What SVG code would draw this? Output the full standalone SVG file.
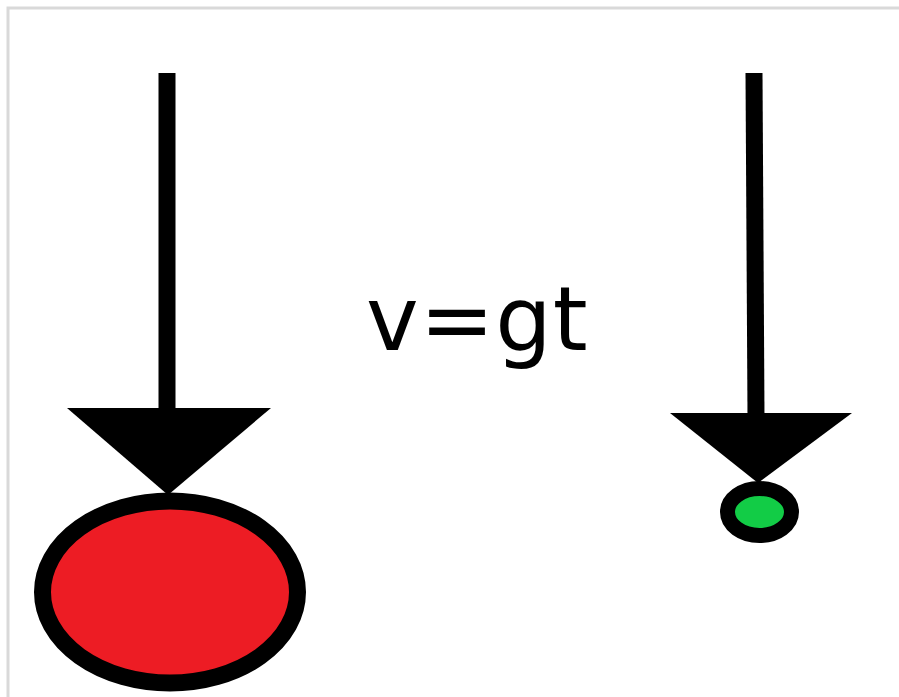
<svg xmlns="http://www.w3.org/2000/svg" width="899" height="697" viewBox="0 0 899 697">
  <style>
    .shaft { stroke: #000; stroke-width: 17; fill: none; }
    .head { fill: #000; }
    .label { font-family: "DejaVu Sans", sans-serif; font-size: 89px; fill: #000; letter-spacing: 1px; }
  </style>
  <rect width="899" height="697" fill="#fff"/>
  <g id="frame">
    <path d="M8 697 V8 H899" fill="none" stroke="#d9d9d9" stroke-width="3"/>
  </g>
  <g id="connectors">
    <line class="shaft" x1="167" y1="73" x2="167" y2="412"/>
    <polygon class="head" points="67,408 271,408 168,495"/>
    <line class="shaft" x1="754" y1="73" x2="756" y2="416"/>
    <polygon class="head" points="670,413 852,413 758,483"/>
  </g>
  <g id="big-ball">
    <ellipse cx="170" cy="592" rx="127.5" ry="91" fill="#ed1c24" stroke="#000" stroke-width="17"/>
  </g>
  <g id="small-ball">
    <ellipse cx="759.5" cy="512" rx="32" ry="23.5" fill="#12cc46" stroke="#000" stroke-width="15"/>
  </g>
  <g id="formula">
    <text class="label" x="366" y="350">v=gt</text>
  </g>
</svg>
